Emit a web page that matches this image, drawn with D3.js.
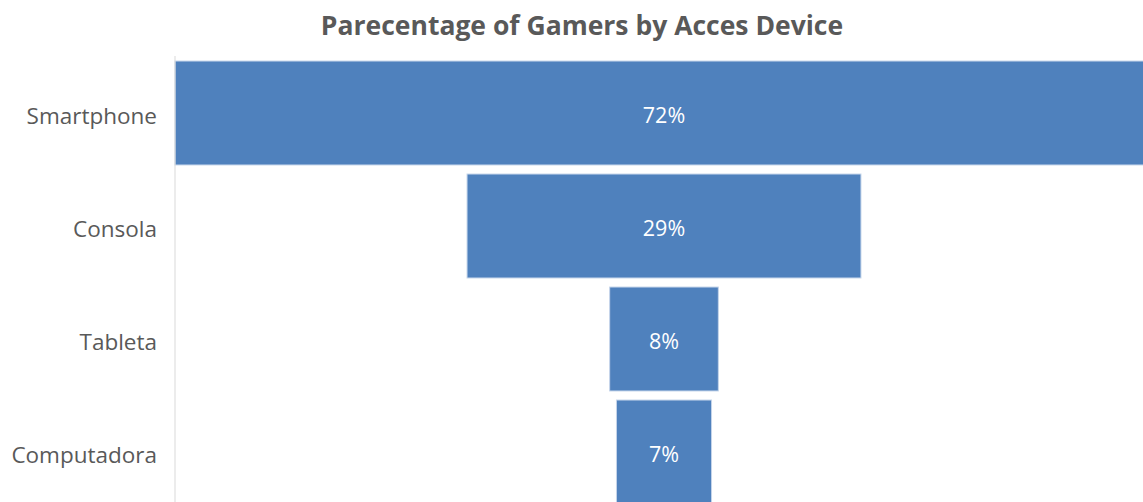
<!DOCTYPE html>
<html>
<head>
<meta charset="utf-8">
<script src="https://cdn.jsdelivr.net/npm/d3@7"></script>
<style>
  body { margin: 0; background: #fff; }
  .title { font-family: "Open Sans", sans-serif; font-weight: bold; fill: #595959; }
  .axis text { font-family: "Open Sans", sans-serif; fill: #595959; }
  .axis path { stroke: #d9d9d9; }
  .label { font-family: "Open Sans", sans-serif; fill: #fff; }
</style>
</head>
<body>
<div id="chart"></div>
<script>
var width = 1143, height = 502;

var devices = ['Smartphone', 'Consola', 'Tableta', 'Computadora'];
var shares = [72, 29, 8, 7];
var shareLabels = ['72%', '29%', '8%', '7%'];

var axisX = 175, centerX = 664;

var y = d3.scaleBand()
  .domain(devices)
  .range([56.5, 508.5])
  .paddingInner(0.08)
  .paddingOuter(0.04);

var w = d3.scaleLinear()
  .domain([0, 72])
  .range([0, 978]);

var svg = d3.select('#chart').append('svg')
  .attr('width', width)
  .attr('height', height);

svg.append('text')
  .classed('title', true)
  .attr('x', 582)
  .attr('y', 35)
  .attr('text-anchor', 'middle')
  .style('font-size', '26.5px')
  .text('Parecentage of Gamers by Acces Device');

var rows = devices.map(function(d, i) {
  return {device: d, value: shares[i], label: shareLabels[i]};
});

svg.selectAll('rect.bar')
  .data(rows).enter()
  .append('rect')
  .classed('bar', true)
  .attr('x', function(d) { return centerX - w(d.value) / 2; })
  .attr('y', function(d) { return y(d.device); })
  .attr('width', function(d) { return w(d.value); })
  .attr('height', y.bandwidth())
  .attr('fill', '#4f81bd')
  .attr('stroke', '#c5d5ea')
  .attr('stroke-width', 1);

svg.selectAll('text.label')
  .data(rows).enter()
  .append('text')
  .classed('label', true)
  .attr('x', centerX)
  .attr('y', function(d) { return y(d.device) + y.bandwidth() / 2; })
  .attr('dy', '0.48em')
  .attr('text-anchor', 'middle')
  .style('font-size', '21.5px')
  .text(function(d) { return d.label; });

var axis = svg.append('g')
  .classed('axis', true)
  .attr('transform', 'translate(' + axisX + ',0)')
  .call(d3.axisLeft(y).tickSize(0).tickPadding(18));

axis.select('.domain').attr('d', 'M0,' + 56 + 'V' + height);
axis.selectAll('text')
  .style('font-size', '22.5px')
  .attr('dy', '0.48em');
</script>
</body>
</html>
